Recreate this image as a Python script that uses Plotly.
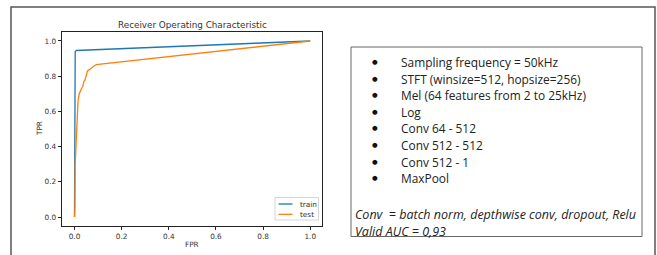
import plotly.graph_objects as go

# ROC data
train_fpr = [0.0, 0.001, 0.002, 0.003, 0.008, 1.0]
train_tpr = [0.0, 0.30, 0.80, 0.94, 0.946, 1.0]

test_fpr = [0.0, 0.002, 0.003, 0.008, 0.012, 0.015, 0.02, 0.025, 0.03, 0.035,
            0.04, 0.045, 0.05, 0.055, 0.065, 0.075, 0.085, 0.092, 1.0]
test_tpr = [0.0, 0.05, 0.30, 0.50, 0.64, 0.66, 0.70, 0.72, 0.73, 0.74,
            0.77, 0.78, 0.80, 0.83, 0.84, 0.85, 0.855, 0.866, 1.0]

series_names = ["train", "test"]
series_colors = ["#1f77b4", "#ff7f0e"]
tick_vals = [0.0, 0.2, 0.4, 0.6, 0.8, 1.0]
tick_text = ["0.0", "0.2", "0.4", "0.6", "0.8", "1.0"]

bullet_lines = [
    "Sampling frequency = 50kHz",
    "STFT (winsize=512, hopsize=256)",
    "Mel (64 features from 2 to 25kHz)",
    "Log",
    "Conv 64 - 512",
    "Conv 512 - 512",
    "Conv 512 - 1",
    "MaxPool",
]
note_lines = [
    "Conv  = batch norm, depthwise conv, dropout, Relu",
    "Valid AUC = 0,93",
]

W, H = 657, 255
L, R, T, B = 62, 322, 32, 226  # plot area in pixels


def px(x):
    return (x - L) / (R - L)


def py(y):
    return (B - y) / (B - T)


fig = go.Figure()
fig.add_trace(go.Scatter(x=train_fpr, y=train_tpr, mode="lines", name=series_names[0],
                         line=dict(color=series_colors[0], width=1.3), showlegend=False))
fig.add_trace(go.Scatter(x=test_fpr, y=test_tpr, mode="lines", name=series_names[1],
                         line=dict(color=series_colors[1], width=1.3), showlegend=False))

axis_common = dict(showline=True, mirror=True, linecolor="#222", linewidth=0.8,
                   ticks="outside", ticklen=3.5, tickwidth=0.8, tickcolor="#222",
                   showgrid=False, zeroline=False, tickvals=tick_vals, ticktext=tick_text,
                   tickfont=dict(family="DejaVu Sans", size=7.3, color="#333"))
fig.update_xaxes(range=[-0.053, 1.05], **axis_common)
fig.update_yaxes(range=[-0.051, 1.051], **axis_common)

shapes = []
annotations = []
# outer slide frame
shapes.append(dict(type="rect", xref="paper", yref="paper", x0=px(11), x1=px(655),
                   y0=py(262), y1=py(7), line=dict(color="#555", width=1.5), layer="below"))
# text box
shapes.append(dict(type="rect", xref="paper", yref="paper", x0=px(351), x1=px(642),
                   y0=py(236.5), y1=py(47), line=dict(color="#666", width=1)))

# manual legend
shapes.append(dict(type="rect", xref="paper", yref="paper", x0=px(275), x1=px(318.5),
                   y0=py(220), y1=py(197.5), line=dict(color="#ccc", width=0.8),
                   fillcolor="rgba(255,255,255,0.8)"))
for i, (name, color) in enumerate(zip(series_names, series_colors)):
    yy = 204 + i * 10.3
    shapes.append(dict(type="line", xref="paper", yref="paper", x0=px(278.5), x1=px(292.5),
                       y0=py(yy), y1=py(yy), line=dict(color=color, width=1.3)))
    annotations.append(dict(text=name, xref="paper", yref="paper", x=px(297.5), y=py(yy),
                            xanchor="left", yanchor="middle", showarrow=False,
                            font=dict(family="DejaVu Sans", size=7.3, color="#333")))

# titles
annotations.append(dict(text="Receiver Operating Characteristic", xref="paper", yref="paper",
                        x=px(192), y=py(25), xanchor="center", yanchor="middle", showarrow=False,
                        font=dict(family="DejaVu Sans", size=8.8, color="#333")))
annotations.append(dict(text="FPR", xref="paper", yref="paper", x=px(192), y=py(244),
                        xanchor="center", yanchor="middle", showarrow=False,
                        font=dict(family="DejaVu Sans", size=7.3, color="#333")))
annotations.append(dict(text="TPR", xref="paper", yref="paper", x=px(39), y=py(129),
                        xanchor="center", yanchor="middle", showarrow=False, textangle=-90,
                        font=dict(family="DejaVu Sans", size=7.3, color="#333")))

# bullet text
for i, line in enumerate(bullet_lines):
    yy = 62 + i * 16.6
    annotations.append(dict(text="●", xref="paper", yref="paper", x=px(375), y=py(yy),
                            xanchor="center", yanchor="middle", showarrow=False,
                            font=dict(family="DejaVu Sans", size=6.5, color="#111")))
    annotations.append(dict(text=line, xref="paper", yref="paper", x=px(398.5), y=py(yy),
                            xanchor="left", yanchor="middle", showarrow=False,
                            font=dict(family="Open Sans", size=11.9, color="#222")))
for i, line in enumerate(note_lines):
    yy = 214.5 + i * 17.3
    annotations.append(dict(text="<i>" + line + "</i>", xref="paper", yref="paper", x=px(353),
                            y=py(yy), xanchor="left", yanchor="middle", showarrow=False,
                            font=dict(family="Open Sans", size=12.5, color="#222")))

fig.update_layout(width=W, height=H,
                  margin=dict(l=L, r=W - R, t=T, b=H - B),
                  paper_bgcolor="white", plot_bgcolor="white",
                  shapes=shapes, annotations=annotations, showlegend=False)
fig.write_html("out.html", config={"displayModeBar": False},
               post_script="document.body.style.margin='0';document.body.style.overflow='hidden';")
